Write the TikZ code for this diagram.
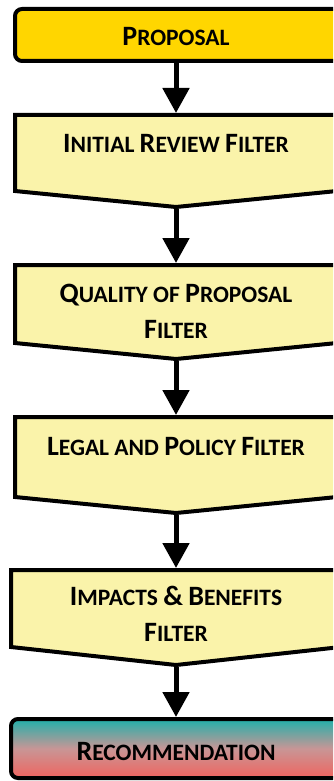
\documentclass[tikz,border=0pt]{standalone}
\usepackage{fontspec}
\setmainfont{Carlito}
\usetikzlibrary{arrows.meta}
\definecolor{gold}{RGB}{255,214,0}
\definecolor{pale}{RGB}{250,243,170}
\definecolor{tealtop}{RGB}{32,176,170}
\definecolor{midpink}{RGB}{200,150,150}
\definecolor{redbot}{RGB}{240,100,95}
\newcommand{\ScB}[1]{{\fontsize{28}{36}\selectfont #1}}
\newcommand{\ScS}[1]{{\fontsize{23.5}{36}\selectfont #1}}
\begin{document}
\begin{tikzpicture}[x=1pt,y=-1pt,line join=miter,
  boxline/.style={draw=black,line width=4pt,fill=pale},
  lbl/.style={font=\bfseries\fontsize{23.5}{36}\selectfont,text=black,inner sep=0pt,align=center},
  arr/.style={draw=black,line width=5pt,-{Triangle[width=26pt,length=25pt]}}]
\useasboundingbox (0,0) rectangle (333,781);
\clip (0,0) rectangle (333,781);
% Proposal
\draw[line width=4pt,fill=gold,rounded corners=7pt] (15,9) rectangle (350,61);
\node[lbl,anchor=base] (prop) at (176,46) {\ScB{P}\ScS{ROPOSAL}};
\coordinate (propb) at (176,62);
% Filter 1
\draw[boxline] (15,115) -- (337,115) -- (337,191) -- (176,207) -- (15,191) -- cycle;
\node[lbl,anchor=base] (f1) at (176,152) {\ScB{I}\ScS{NITIAL} \ScB{R}\ScS{EVIEW} \ScB{F}\ScS{ILTER}};
\coordinate (f1t) at (176,113);
\coordinate (f1b) at (176,209);
% Filter 2
\draw[boxline] (15,265) -- (337,265) -- (337,343) -- (176,359) -- (15,343) -- cycle;
\node[lbl] (f2) at (176,311) {\ScB{Q}\ScS{UALITY} \ScS{OF} \ScB{P}\ScS{ROPOSAL}\\\ScB{F}\ScS{ILTER}};
\coordinate (f2t) at (176,263);
\coordinate (f2b) at (176,361);
% Filter 3
\draw[boxline] (15,417) -- (337,417) -- (337,497) -- (176,513) -- (15,497) -- cycle;
\node[lbl,anchor=base] (f3) at (176,455) {\ScB{L}\ScS{EGAL} \ScS{AND} \ScB{P}\ScS{OLICY} \ScB{F}\ScS{ILTER}};
\coordinate (f3t) at (176,415);
\coordinate (f3b) at (176,515);
% Filter 4
\draw[boxline] (11,570) -- (341,570) -- (341,647) -- (176,665) -- (11,647) -- cycle;
\node[lbl] (f4) at (176,614) {\ScB{I}\ScS{MPACTS} \ScB{\&} \ScB{B}\ScS{ENEFITS}\\\ScB{F}\ScS{ILTER}};
\coordinate (f4t) at (176,568);
\coordinate (f4b) at (176,667);
% Recommendation
\draw[line width=4pt,rounded corners=7pt,top color=tealtop,bottom color=redbot,middle color=midpink] (11,719) rectangle (350,778);
\node[lbl,anchor=base] (rec) at (176,760) {\ScB{R}\ScS{ECOMMENDATION}};
\coordinate (rect) at (176,717);
% connectors
\draw[arr] (propb) -- (f1t);
\draw[arr] (f1b) -- (f2t);
\draw[arr] (f2b) -- (f3t);
\draw[arr] (f3b) -- (f4t);
\draw[arr] (f4b) -- (rect);
\end{tikzpicture}
\end{document}
